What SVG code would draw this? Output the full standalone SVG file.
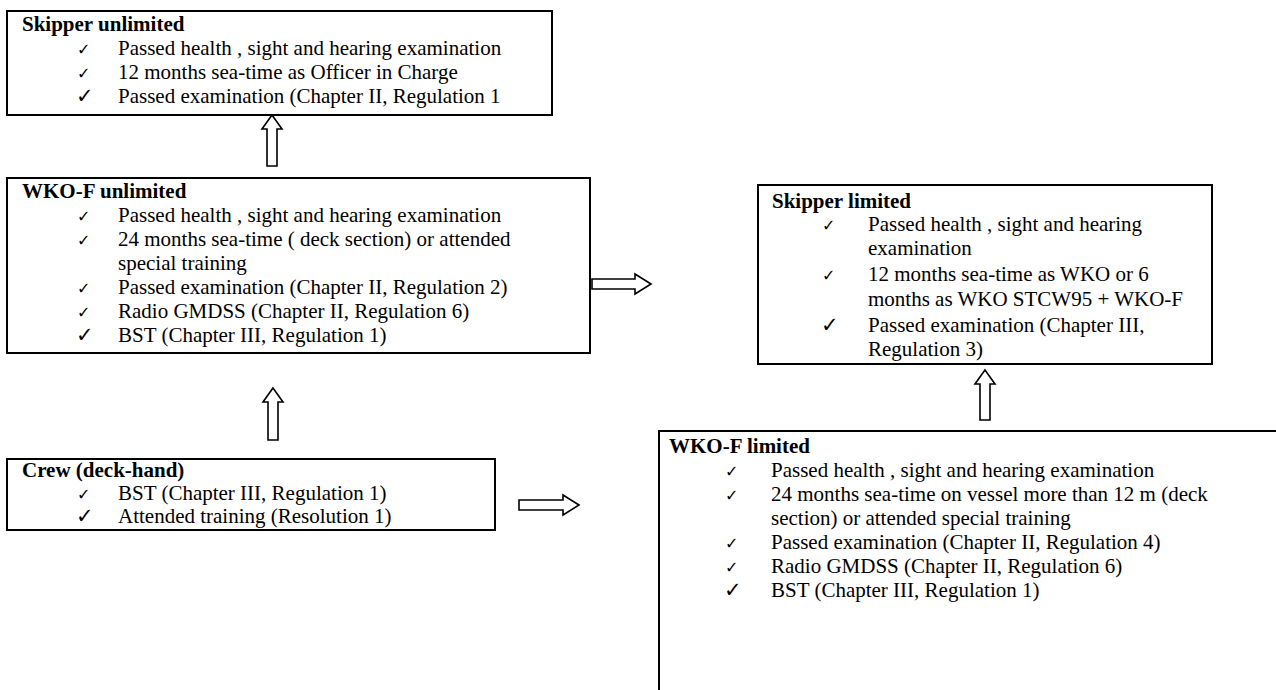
<svg xmlns="http://www.w3.org/2000/svg" width="1276" height="690" viewBox="0 0 1276 690">
<style>
.box{fill:#fff;stroke:#000;stroke-width:2}
.t{font-family:"Liberation Serif","Times New Roman",serif;font-size:21px;fill:#000}
.h{font-family:"Liberation Serif","Times New Roman",serif;font-size:21px;font-weight:bold;fill:#000}
.c{font-family:"DejaVu Sans",sans-serif;font-size:16px;fill:#000}
.cb{font-family:"DejaVu Sans",sans-serif;font-size:21px;fill:#000}
.arr{fill:#fff;stroke:#000;stroke-width:1.6;stroke-linejoin:miter}
</style>
<rect width="1276" height="690" fill="#fff"/>
<g id="skipper-unlimited">
<rect class="box" x="7" y="11" width="545" height="104"/>
<text class="h" x="22" y="31">Skipper unlimited</text>
<text class="c" x="77" y="55">✓</text><text class="t" x="118" y="55">Passed health , sight and hearing examination</text>
<text class="c" x="77" y="79">✓</text><text class="t" x="118" y="79">12 months sea-time as Officer in Charge</text>
<text class="cb" x="76" y="103">✓</text><text class="t" x="118" y="103">Passed examination (Chapter II, Regulation 1</text>
</g>
<g id="wkof-unlimited">
<rect class="box" x="7" y="178" width="583" height="175"/>
<text class="h" x="22" y="198">WKO-F unlimited</text>
<text class="c" x="77" y="222">✓</text><text class="t" x="118" y="222">Passed health , sight and hearing examination</text>
<text class="c" x="77" y="246">✓</text><text class="t" x="118" y="246">24 months sea-time ( deck section) or attended</text>
<text class="t" x="118" y="270">special training</text>
<text class="c" x="77" y="294">✓</text><text class="t" x="118" y="294">Passed examination (Chapter II, Regulation 2)</text>
<text class="c" x="77" y="318">✓</text><text class="t" x="118" y="318">Radio GMDSS (Chapter II, Regulation 6)</text>
<text class="cb" x="76" y="342">✓</text><text class="t" x="118" y="342">BST (Chapter III, Regulation 1)</text>
</g>
<g id="crew">
<rect class="box" x="7" y="459" width="488" height="71"/>
<text class="h" x="22" y="477">Crew (deck-hand)</text>
<text class="c" x="77" y="500">✓</text><text class="t" x="118" y="500">BST (Chapter III, Regulation 1)</text>
<text class="cb" x="76" y="523">✓</text><text class="t" x="118" y="523">Attended training (Resolution 1)</text>
</g>
<g id="skipper-limited">
<rect class="box" x="758" y="185" width="454" height="179"/>
<text class="h" x="772" y="208">Skipper limited</text>
<text class="c" x="822" y="231">✓</text><text class="t" x="868" y="231">Passed health , sight and hearing</text>
<text class="t" x="868" y="255">examination</text>
<text class="c" x="822" y="281">✓</text><text class="t" x="868" y="281">12 months sea-time as WKO or 6</text>
<text class="t" x="868" y="306">months as WKO STCW95 + WKO-F</text>
<text class="cb" x="821" y="332">✓</text><text class="t" x="868" y="332">Passed examination (Chapter III,</text>
<text class="t" x="868" y="356">Regulation 3)</text>
</g>
<g id="wkof-limited">
<rect class="box" x="659" y="431" width="660" height="300"/>
<text class="h" x="669" y="453">WKO-F limited</text>
<text class="c" x="725" y="477">✓</text><text class="t" x="771" y="477">Passed health , sight and hearing examination</text>
<text class="c" x="725" y="501">✓</text><text class="t" x="771" y="501">24 months sea-time on vessel more than 12 m (deck</text>
<text class="t" x="771" y="525">section) or attended special training</text>
<text class="c" x="725" y="549">✓</text><text class="t" x="771" y="549">Passed examination (Chapter II, Regulation 4)</text>
<text class="c" x="725" y="573">✓</text><text class="t" x="771" y="573">Radio GMDSS (Chapter II, Regulation 6)</text>
<text class="cb" x="724" y="597">✓</text><text class="t" x="771" y="597">BST (Chapter III, Regulation 1)</text>
</g>
<g id="connectors">
<polygon class="arr" points="272,115 282,129 277,129 277,166 267,166 267,129 262,129"/>
<polygon class="arr" points="273,388 283,402 278,402 278,440 268,440 268,402 263,402"/>
<polygon class="arr" points="985,370 995,384 990,384 990,420 980,420 980,384 975,384"/>
<polygon class="arr" points="651,284 635,274 635,279 592,279 592,289 635,289 635,294"/>
<polygon class="arr" points="579,505 563,495 563,500 519,500 519,510 563,510 563,515"/>
</g>
</svg>
